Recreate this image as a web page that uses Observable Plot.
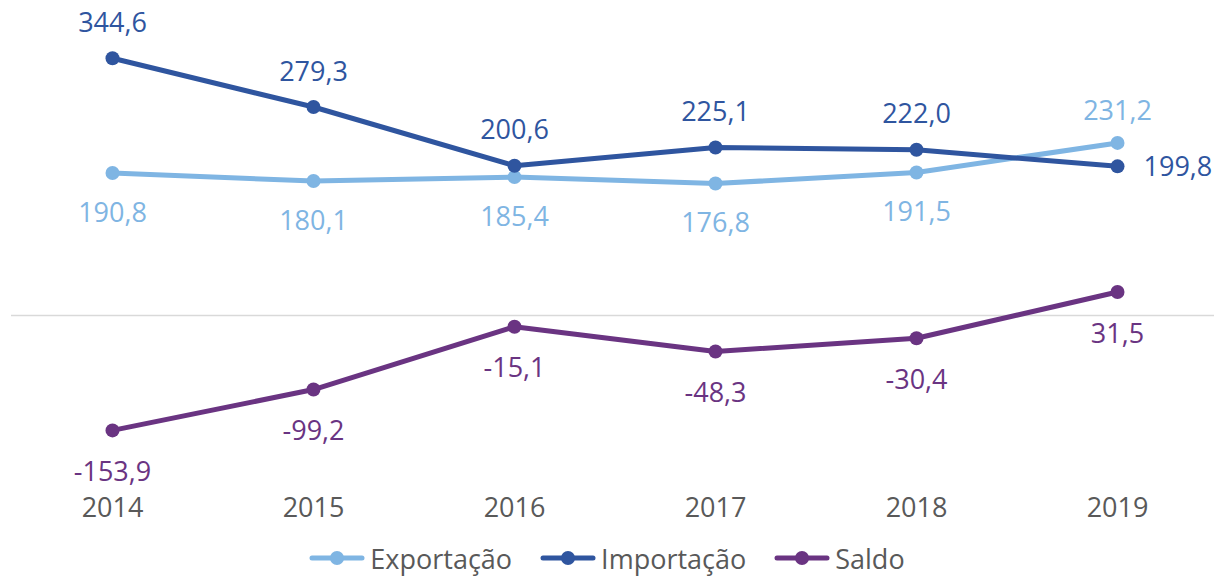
<!DOCTYPE html>
<html>
<head>
<meta charset="utf-8">
<script src="https://cdn.jsdelivr.net/npm/d3@7"></script>
<script src="https://cdn.jsdelivr.net/npm/@observablehq/plot@0.6"></script>
<style>
  html, body { margin: 0; padding: 0; background: #fff; }
  #chart { width: 1214px; }
  .legend { display: flex; justify-content: center; align-items: center; height: 36px; font-family: "Open Sans", sans-serif; font-size: 27px; color: #595959; margin-left: 0px; }
  .legend .item { display: flex; align-items: center; margin: 0 14px; }
  .legend svg { margin-right: 5px; }
</style>
</head>
<body>
<div id="chart"></div>
<script>
const years = [2014, 2015, 2016, 2017, 2018, 2019];
const exportacao = [190.8, 180.1, 185.4, 176.8, 191.5, 231.2];
const importacao = [344.6, 279.3, 200.6, 225.1, 222.0, 199.8];
const saldo = [-153.9, -99.2, -15.1, -48.3, -30.4, 31.5];
const seriesNames = ["Exportação", "Importação", "Saldo"];
const colors = ["#7FB5E3", "#2F559F", "#6A3482"];

const seriesValues = [exportacao, importacao, saldo];
const data = [];
seriesNames.forEach((s, si) => {
  years.forEach((yr, i) => data.push({serie: s, year: String(yr), value: seriesValues[si][i], idx: i}));
});
const fmt = v => v.toFixed(1).replace(".", ",");
const colorOf = d => colors[seriesNames.indexOf(d.serie)];
const last = years.length - 1;

const font = "'Open Sans', sans-serif";
const textBase = {x: "year", y: "value", text: d => fmt(d.value), fill: colorOf, fontSize: 27, fontFamily: font};

const chart = Plot.plot({
  width: 1214,
  height: 540,
  marginTop: 16.4,
  marginBottom: 50,
  marginLeft: 11,
  marginRight: 0,
  style: {fontFamily: font, background: "#fff"},
  x: {type: "point", domain: years.map(String), range: [11, 1217], padding: 0.5, label: null},
  y: {domain: [-234.4, 400], axis: null},
  marks: [
    Plot.ruleY([0], {stroke: "#D9D9D9", strokeWidth: 1.5}),
    Plot.line(data, {x: "year", y: "value", z: "serie", stroke: colorOf, strokeWidth: 5, strokeLinejoin: "round", strokeLinecap: "round"}),
    Plot.dot(data, {x: "year", y: "value", fill: colorOf, r: 7, stroke: "none"}),
    // Exportação labels: below, except last above
    Plot.text(data.filter(d => d.serie === "Exportação" && d.idx < last), {...textBase, dy: 40}),
    Plot.text(data.filter(d => d.serie === "Exportação" && d.idx === last), {...textBase, dy: -32}),
    // Importação labels: above, except last to the right
    Plot.text(data.filter(d => d.serie === "Importação" && d.idx < last), {...textBase, dy: -35}),
    Plot.text(data.filter(d => d.serie === "Importação" && d.idx === last), {...textBase, dx: 26, dy: 1, textAnchor: "start"}),
    // Saldo labels: below
    Plot.text(data.filter(d => d.serie === "Saldo"), {...textBase, dy: 42}),
    Plot.axisX({tickSize: 0, tickPadding: 7, fontSize: 27, fill: "#595959", color: "#595959", label: null, fontFamily: font})
  ]
});
document.getElementById("chart").appendChild(chart);

const legend = document.createElement("div");
legend.className = "legend";
seriesNames.forEach((s, i) => {
  const item = document.createElement("div");
  item.className = "item";
  item.innerHTML = `<svg width="56" height="16"><line x1="3" y1="8" x2="53" y2="8" stroke="${colors[i]}" stroke-width="5" stroke-linecap="round"/><circle cx="28" cy="8" r="7" fill="${colors[i]}"/></svg><span>${s}</span>`;
  legend.appendChild(item);
});
document.getElementById("chart").appendChild(legend);
</script>
</body>
</html>
